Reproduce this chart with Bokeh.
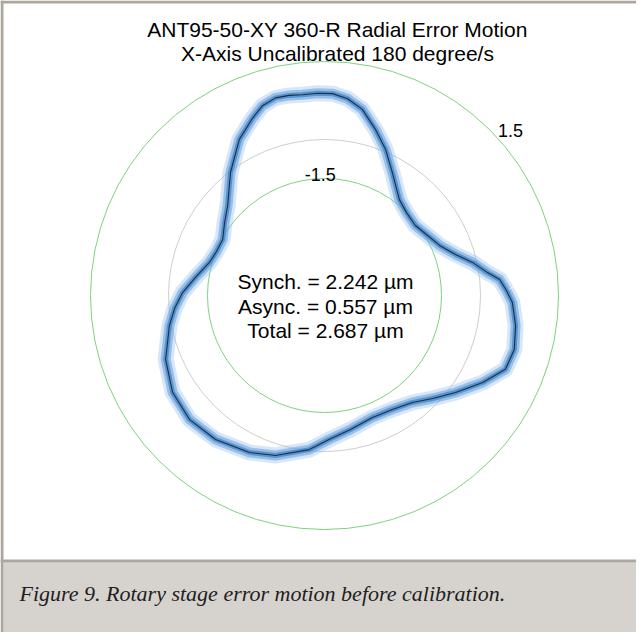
import numpy as np
from bokeh.plotting import figure
from bokeh.models import Range1d
from bokeh.core.properties import value
from bokeh.embed import file_html
from bokeh.resources import INLINE

# ---------------- data ----------------
title_lines = ["ANT95-50-XY 360-R Radial Error Motion",
               "X-Axis Uncalibrated 180 degree/s"]
stat_lines = ["Synch. = 2.242 \u00b5m", "Async. = 0.557 \u00b5m", "Total = 2.687 \u00b5m"]
caption = "Figure 9. Rotary stage error motion before calibration."

# polar angle (deg, counter-clockwise from +x) and mean radial error (um)
angle_deg = [1.5, 5.2, 8.0, 12.6, 17.4, 23.5, 30.2, 37.6, 45.3, 52.0, 61.1, 67.3, 72.9,
             78.5, 83.3, 87.7, 92.0, 96.3, 100.0, 103.9, 108.1, 112.2, 118.6, 127.4,
             137.1, 143.9, 151.2, 157.8, 164.0, 172.0, 178.8, 185.0, 190.95, 201.9,
             212.5, 222.6, 232.9, 244.5, 253.0, 264.4, 272.0, 281.0, 291.5, 300.8,
             309.4, 316.4, 323.5, 331.2, 337.8, 344.1, 351.1, 357.9]
mean_um = [0.17, 0.01, -0.28, -0.61, -0.98, -1.28, -1.44, -1.56, -1.51, -1.38, -0.90, -0.44, -0.05,
           0.37, 0.58, 0.68, 0.69, 0.68, 0.71, 0.72, 0.62, 0.40, 0.06, -0.53,
           -1.11, -1.33, -1.52, -1.51, -1.43, -1.16, -0.86, -0.64, -0.45, -0.11,
           0.12, 0.20, 0.13, -0.04, -0.21, -0.53, -0.81, -1.00, -1.14, -1.10,
           -0.95, -0.67, -0.32, 0.13, 0.51, 0.56, 0.46, 0.32]

ring_values = [-1.5, -0.5, 1.5]
ring_label_values = [-1.5, 1.5]
ring_label_text = ["-1.5", "1.5"]
ring_label_angle = [92.0, 41.6]

# ---------------- layout ----------------
W, H = 636, 632
S = 39.0          # pixels per micron
R0 = 4.5          # radial offset (um) so that -1.5 sits at r=3
CX, CY = 324.0, 295.0   # plot centre in figure pixels


def to_data(px, py):
    return (px - CX) / S, (CY - py) / S


p = figure(width=W, height=H, output_backend="svg", toolbar_location=None,
           x_range=Range1d(-CX / S, (W - CX) / S),
           y_range=Range1d(-(H - CY) / S, CY / S),
           x_axis_type=None, y_axis_type=None, min_border=0)
p.grid.visible = False
p.outline_line_color = None
p.background_fill_color = "white"
p.border_fill_color = "white"

# frame and caption panel
l, t = to_data(0, 0)
r, b = to_data(W, H)
p.quad(left=[to_data(3, 0)[0]], right=[r], top=[to_data(0, 562)[1]], bottom=[b],
       fill_color="#d6d3ce", line_color=None)
p.quad(left=[l], right=[r], top=[t], bottom=[to_data(0, 3)[1]],
       fill_color="#ada69e", line_color=None)
p.quad(left=[l], right=[to_data(3, 0)[0]], top=[t], bottom=[b],
       fill_color="#ada69e", line_color=None)
p.quad(left=[l], right=[r], top=[to_data(0, 559)[1]], bottom=[to_data(0, 562)[1]],
       fill_color="#ada69e", line_color=None)

# reference rings
ring_cols = ["#7ed27e", "#cdcdcd", "#7ed27e"]
for v, c in zip(ring_values, ring_cols):
    p.circle(x=[0], y=[0], radius=v + R0, fill_color=None, line_color=c, line_width=1)

# error-motion trace
th = np.deg2rad(np.array(angle_deg + [angle_deg[0]]))
rr = np.array(mean_um + [mean_um[0]]) + R0
xs, ys = rr * np.cos(th), rr * np.sin(th)
p.line(xs, ys, line_color="#9cc4ec", line_width=16, line_join="round", line_alpha=0.4)
p.line(xs, ys, line_color="#5898da", line_width=10, line_join="round", line_alpha=0.5)
p.line(xs, ys, line_color="#2f76c2", line_width=5, line_join="round", line_alpha=0.6)
p.line(xs, ys, line_color="#1d2f40", line_width=1.1, line_join="round")

# ring labels
lab_r = []
for v, a in zip(ring_label_values, ring_label_angle):
    extra = 0.1 if v < 0 else 0.38
    lab_r.append(v + R0 + extra)
la = np.deg2rad(ring_label_angle)
p.text(x=list(np.array(lab_r) * np.cos(la)), y=list(np.array(lab_r) * np.sin(la)),
       text=ring_label_text, text_font=value("Liberation Sans"), text_font_size="18px",
       text_align="center", text_baseline="middle", text_color="black")

# title
for i, s in enumerate(title_lines):
    x, y = to_data(337, 29 + 24 * i)
    p.text(x=[x], y=[y], text=[s], text_font=value("Liberation Sans"),
           text_font_size="21px", text_align="center", text_baseline="middle",
           text_color="black")

# stats
for i, s in enumerate(stat_lines):
    x, y = to_data(325, 281 + 24.5 * i)
    p.text(x=[x], y=[y], text=[s], text_font=value("Liberation Sans"),
           text_font_size="21px", text_align="center", text_baseline="middle",
           text_color="black")

# caption
x, y = to_data(19, 593)
p.text(x=[x], y=[y], text=[caption], text_font=value("Liberation Serif"),
       text_font_style="italic", text_font_size="22px", text_align="left",
       text_baseline="middle", text_color="#1e1e1e")

open("out.html", "w").write(file_html(p, INLINE))
